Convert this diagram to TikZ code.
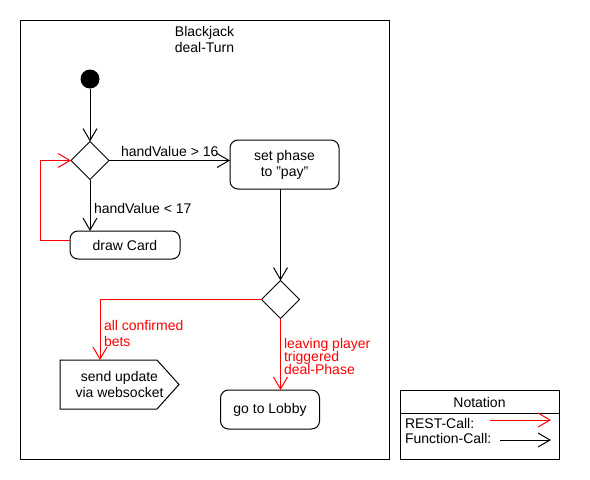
\documentclass[tikz,border=0pt]{standalone}
\usepackage{fontspec}
\setmainfont{Liberation Sans}
\usetikzlibrary{arrows.meta,shapes.geometric}
\definecolor{restred}{RGB}{255,0,0}
\begin{document}
\begin{tikzpicture}[x=1pt,y=-1pt,
  every node/.style={font=\fontsize{14}{16}\selectfont, inner sep=0pt, outer sep=0pt},
  flow/.style={-{Straight Barb[length=12pt,width=14pt]}, line width=1pt},
  act/.style={draw, rounded corners=8pt, line width=1pt, align=center},
  dec/.style={draw, diamond, minimum width=38pt, minimum height=38pt, line width=1pt},
  lbl/.style={anchor=base west, align=left},
  rest/.style={color=restred, text=restred}
]
\useasboundingbox (0,0) rectangle (590,480);
\node[draw, line width=1pt, minimum width=369pt, minimum height=439pt, anchor=north west] (frame) at (20,20) {};
\node[align=center] (title) at (204.5,39.5) {Blackjack\\deal-Turn};

\node[circle, fill, minimum size=19pt] (start) at (90,79) {};
\node[dec] (d1) at (90,160.5) {};
\node[act, minimum width=109pt, minimum height=49pt] (setp) at (284.5,164.5) {set phase\\to "pay"};
\node[act, minimum width=110pt, minimum height=28pt] (card) at (125,245) {draw Card};
\node[dec] (d2) at (280.5,299.5) {};
\node[minimum width=119pt, minimum height=49pt, align=center] (send) at (119.5,384.5) {send update\\via websocket};
\draw[line width=1pt] (send.north west) -- ([xshift=-22pt]send.north east) -- (send.east)
  -- ([xshift=-22pt]send.south east) -- (send.south west) -- cycle;
\node[act, minimum width=99pt, minimum height=39pt] (lobby) at (270,409.5) {go to Lobby};

\draw[flow] (start) -- (d1);
\draw[flow] (d1.east) -- (d1.east -| setp.west);
\draw[flow] (d1.south) -- (d1.south |- card.north);
\draw[flow, rest] ([yshift=5pt]card.west) -- ++(-30,0) |- (d1.west);
\draw[flow] (d2.north |- setp.south) -- (d2.north);
\draw[flow, rest] (d2.west) -| ([xshift=-19.5pt]send.north);
\draw[flow, rest] (d2.south) -- (d2.south |- lobby.north);

\node[lbl] (l1) at (121,156) {handValue > 16};
\node[lbl] (l2) at (94,213) {handValue < 17};
\node[lbl, rest] (l3) at (104,346) {all confirmed\\bets};
\node[lbl, rest] (l4) at (284,374) {leaving player\\[-3pt]triggered\\[-3pt]deal-Phase};

\node[draw, line width=1pt, minimum width=159pt, minimum height=69pt, anchor=north west] (nota) at (400,390) {};
\draw[line width=1pt] (nota.west |- 0,413) -- (nota.east |- 0,413);
\node (notat) at (479.5,402.5) {Notation};
\node[lbl] (restl) at (405,428) {REST-Call:};
\node[lbl] (funcl) at (405,443.5) {Function-Call:};
\coordinate (ra) at (490,420);
\coordinate (rb) at (551,420);
\coordinate (fa) at (500,440);
\coordinate (fb) at (551,440);
\draw[flow, rest] (ra) -- (rb);
\draw[flow] (fa) -- (fb);
\end{tikzpicture}
\end{document}
